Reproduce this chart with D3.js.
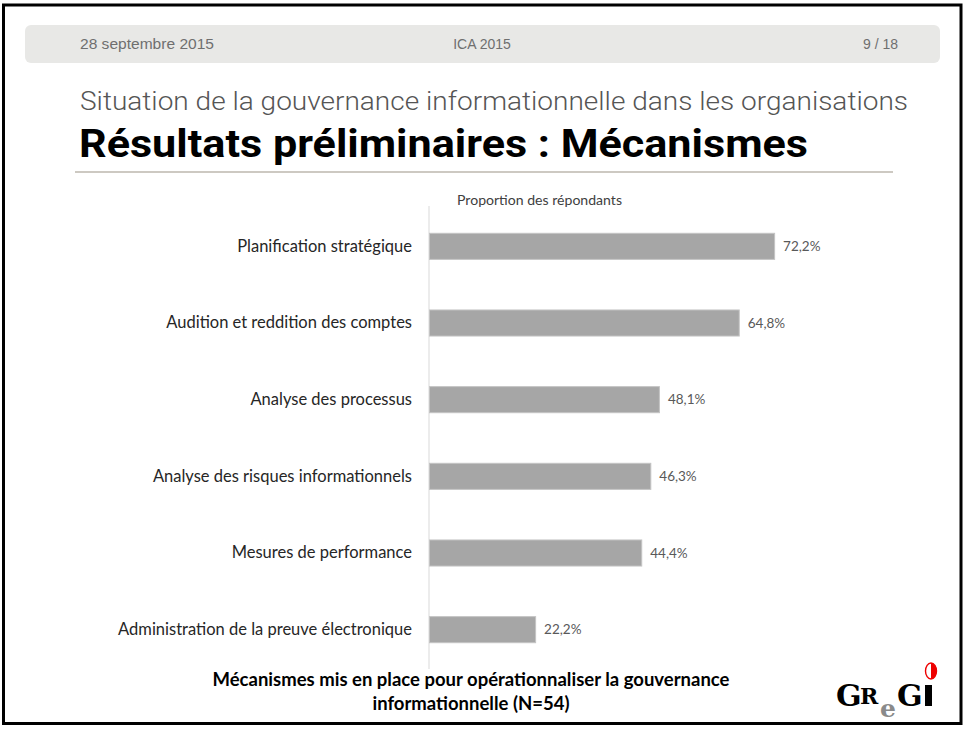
<!DOCTYPE html>
<html>
<head>
<meta charset="utf-8">
<script src="https://cdn.jsdelivr.net/npm/d3@7"></script>
<style>
  html, body { margin: 0; padding: 0; background: #fff; }
  svg { display: block; }
</style>
</head>
<body>
<div id="content"></div>
<script>
"use strict";

// data
var mechanisms = [
  "Planification stratégique",
  "Audition et reddition des comptes",
  "Analyse des processus",
  "Analyse des risques informationnels",
  "Mesures de performance",
  "Administration de la preuve électronique"
];
var shares = [72.2, 64.8, 48.1, 46.3, 44.4, 22.2];
var headerTexts = ["28 septembre 2015", "ICA 2015", "9 / 18"];
var captionLines = ["Mécanismes mis en place pour opérationnaliser la gouvernance", "informationnelle (N=54)"];

var width = 965;
var height = 729;

var svg = d3.select('#content').append('svg')
  .attr('width', width)
  .attr('height', height);

// slide frame
svg.append('rect')
  .attr('x', 3.5).attr('y', 5)
  .attr('width', 957.5).attr('height', 718.5)
  .attr('fill', '#fff')
  .attr('stroke', '#000')
  .attr('stroke-width', 3);

// header band
svg.append('rect')
  .attr('x', 25).attr('y', 25)
  .attr('width', 915).attr('height', 38)
  .attr('rx', 6)
  .attr('fill', '#e8e8e6');

var hdr = svg.append('g')
  .attr('font-family', 'Liberation Sans, Arial, sans-serif')
  .attr('font-size', 14)
  .attr('fill', '#6f6f6f');
hdr.append('text').attr('x', 80).attr('y', 49).attr('textLength', 134).attr('lengthAdjust', 'spacingAndGlyphs').text(headerTexts[0]);
hdr.append('text').attr('x', 482).attr('y', 49).attr('text-anchor', 'middle').text(headerTexts[1]);
hdr.append('text').attr('x', 898).attr('y', 49).attr('text-anchor', 'end').text(headerTexts[2]);

// titles
svg.append('text')
  .attr('x', 80).attr('y', 110)
  .attr('font-family', 'Roboto, sans-serif')
  .attr('font-weight', 300)
  .attr('font-size', 25)
  .attr('fill', '#555')
  .attr('textLength', 828)
  .attr('lengthAdjust', 'spacingAndGlyphs')
  .text('Situation de la gouvernance informationnelle dans les organisations');

svg.append('text')
  .attr('x', 79).attr('y', 157)
  .attr('font-family', 'Roboto, sans-serif')
  .attr('font-weight', 700)
  .attr('font-size', 38)
  .attr('fill', '#000')
  .attr('textLength', 729)
  .attr('lengthAdjust', 'spacingAndGlyphs')
  .text('Résultats préliminaires : Mécanismes');

svg.append('line')
  .attr('x1', 75).attr('x2', 893)
  .attr('y1', 172).attr('y2', 172)
  .attr('stroke', '#bdb7ae')
  .attr('stroke-width', 1.5);

// chart
var x = d3.scaleLinear()
  .domain([0, 100])
  .range([429, 907]);

var y = d3.scaleBand()
  .domain(mechanisms)
  .range([208, 668])
  .paddingInner(0.66)
  .paddingOuter(0.33);

var fr = d3.formatLocale({ decimal: ",", thousands: " ", grouping: [3], currency: ["", " €"] });
var pct = fr.format(".1f");

svg.append('text')
  .attr('x', 457).attr('y', 205)
  .attr('font-family', 'Lato, sans-serif')
  .attr('font-size', 13.5)
  .attr('fill', '#404040')
  .attr('textLength', 165)
  .attr('lengthAdjust', 'spacingAndGlyphs')
  .text('Proportion des répondants');

var yAxis = d3.axisLeft(y).tickSize(0).tickPadding(17);
var ga = svg.append('g')
  .attr('transform', 'translate(' + x(0) + ',0)')
  .call(yAxis);
ga.select('.domain')
  .attr('d', 'M0,' + 206 + 'V' + 669)
  .attr('stroke', '#d9d9d9');
ga.selectAll('text')
  .attr('font-family', 'Lato, sans-serif')
  .attr('font-size', 16.5)
  .attr('fill', '#262626');

var bars = svg.selectAll('.bar')
  .data(mechanisms)
  .enter();

bars.append('rect')
  .attr('class', 'bar')
  .attr('x', x(0) + 0.5)
  .attr('y', function(d) { return y(d); })
  .attr('width', function(d, i) { return x(shares[i]) - x(0); })
  .attr('height', y.bandwidth())
  .attr('fill', '#a6a6a6')
  .attr('stroke', '#c4c4c4')
  .attr('stroke-width', 1);

bars.append('text')
  .attr('x', function(d, i) { return x(shares[i]) + 9; })
  .attr('y', function(d) { return y(d) + y.bandwidth() / 2; })
  .attr('dy', '0.35em')
  .attr('font-family', 'Lato, sans-serif')
  .attr('font-size', 13.5)
  .attr('fill', '#595959')
  .text(function(d, i) { return pct(shares[i]) + '%'; });

// caption
var cap = svg.append('g')
  .attr('font-family', 'Lato, sans-serif')
  .attr('font-weight', 700)
  .attr('font-size', 18.5)
  .attr('fill', '#000')
  .attr('text-anchor', 'middle');
captionLines.forEach(function(t, i) {
  cap.append('text').attr('x', 471).attr('y', 686 + i * 24).text(t);
});

// GReGi logo
var logo = svg.append('g')
  .attr('font-family', 'DejaVu Serif, serif')
  .attr('font-weight', 700);
logo.append('text').attr('x', 836).attr('y', 706).attr('font-size', 30).attr('fill', '#000').text('G');
logo.append('text').attr('x', 860).attr('y', 704).attr('font-size', 22).attr('fill', '#000').text('R');
logo.append('text').attr('x', 880).attr('y', 717).attr('font-size', 25).attr('fill', '#8a8a8a').text('e');
logo.append('text').attr('x', 897).attr('y', 706).attr('font-size', 30).attr('fill', '#000').text('G');
logo.append('rect').attr('x', 925).attr('y', 685).attr('width', 7).attr('height', 21).attr('fill', '#000');
logo.append('ellipse').attr('cx', 931).attr('cy', 671).attr('rx', 5.5).attr('ry', 8)
  .attr('fill', '#fff').attr('stroke', '#e00').attr('stroke-width', 1.4);
logo.append('path').attr('d', 'M931,663 A5.5,8 0 0 1 931,679 Z').attr('fill', '#e00');
</script>
</body>
</html>
